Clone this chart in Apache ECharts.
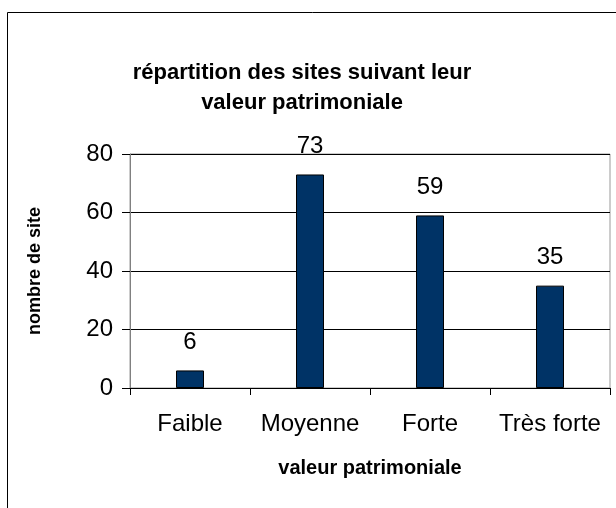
<!DOCTYPE html>
<html>
<head>
<meta charset="utf-8">
<script src="https://cdn.jsdelivr.net/npm/echarts@6/dist/echarts.min.js"></script>
<style>html,body{margin:0;padding:0;background:#fff;}#c{width:616px;height:508px;}</style>
</head>
<body>
<div id="c"></div>
<script>
var categories = ['Faible', 'Moyenne', 'Forte', 'Très forte'];
var values = [6, 73, 59, 35];
var yTicks = [0, 20, 40, 60, 80];
var titleLines = ['répartition des sites suivant leur', 'valeur patrimoniale'];
var xName = 'valeur patrimoniale';
var yName = 'nombre de site';

var FONT = '"Liberation Sans", Arial, sans-serif';
var chart = echarts.init(document.getElementById('c'), null, {renderer: 'canvas'});
chart.setOption({
  animation: false,
  backgroundColor: '#fff',
  graphic: [
    {type: 'rect', shape: {x: 7.5, y: 12.5, width: 700, height: 600}, style: {fill: 'none', stroke: '#000', lineWidth: 1}, z: 0},
    {type: 'text', x: 302, y: 88, style: {text: titleLines.join('\n'), font: 'bold 22px ' + FONT, fill: '#000', textAlign: 'center', textVerticalAlign: 'middle', lineHeight: 30}, z: 10}
  ],
  grid: {left: 130, right: 6, top: 154, bottom: 120, show: true, borderColor: '#999', borderWidth: 1, backgroundColor: 'transparent'},
  xAxis: {
    type: 'category', data: categories,
    name: xName, nameLocation: 'middle', nameGap: 70,
    nameTextStyle: {fontFamily: FONT, fontWeight: 'bold', fontSize: 20, color: '#000'},
    axisLine: {lineStyle: {color: '#000', width: 1}},
    axisTick: {show: true, length: 7, lineStyle: {color: '#000'}},
    axisLabel: {fontFamily: FONT, fontSize: 24, color: '#000', margin: 24, interval: 0}
  },
  yAxis: {
    type: 'value', min: 0, max: 80, interval: 20,
    name: yName, nameLocation: 'middle', nameGap: 86, nameRotate: 90,
    nameTextStyle: {fontFamily: FONT, fontWeight: 'bold', fontSize: 18, color: '#000'},
    axisLine: {show: true, lineStyle: {color: '#808080', width: 1}},
    axisTick: {show: true, length: 8, lineStyle: {color: '#000'}},
    axisLabel: {fontFamily: FONT, fontSize: 24, color: '#000', margin: 17,
      formatter: function (v) { return yTicks.indexOf(v) >= 0 ? String(v) : ''; }},
    splitLine: {show: true, lineStyle: {color: '#000', width: 1}}
  },
  series: [{
    type: 'bar', data: values, barWidth: 28,
    itemStyle: {color: '#003366', borderColor: '#000', borderWidth: 1},
    label: {show: true, position: 'top', distance: 16, fontFamily: FONT, fontSize: 24, color: '#000'}
  }]
});
</script>
</body>
</html>
